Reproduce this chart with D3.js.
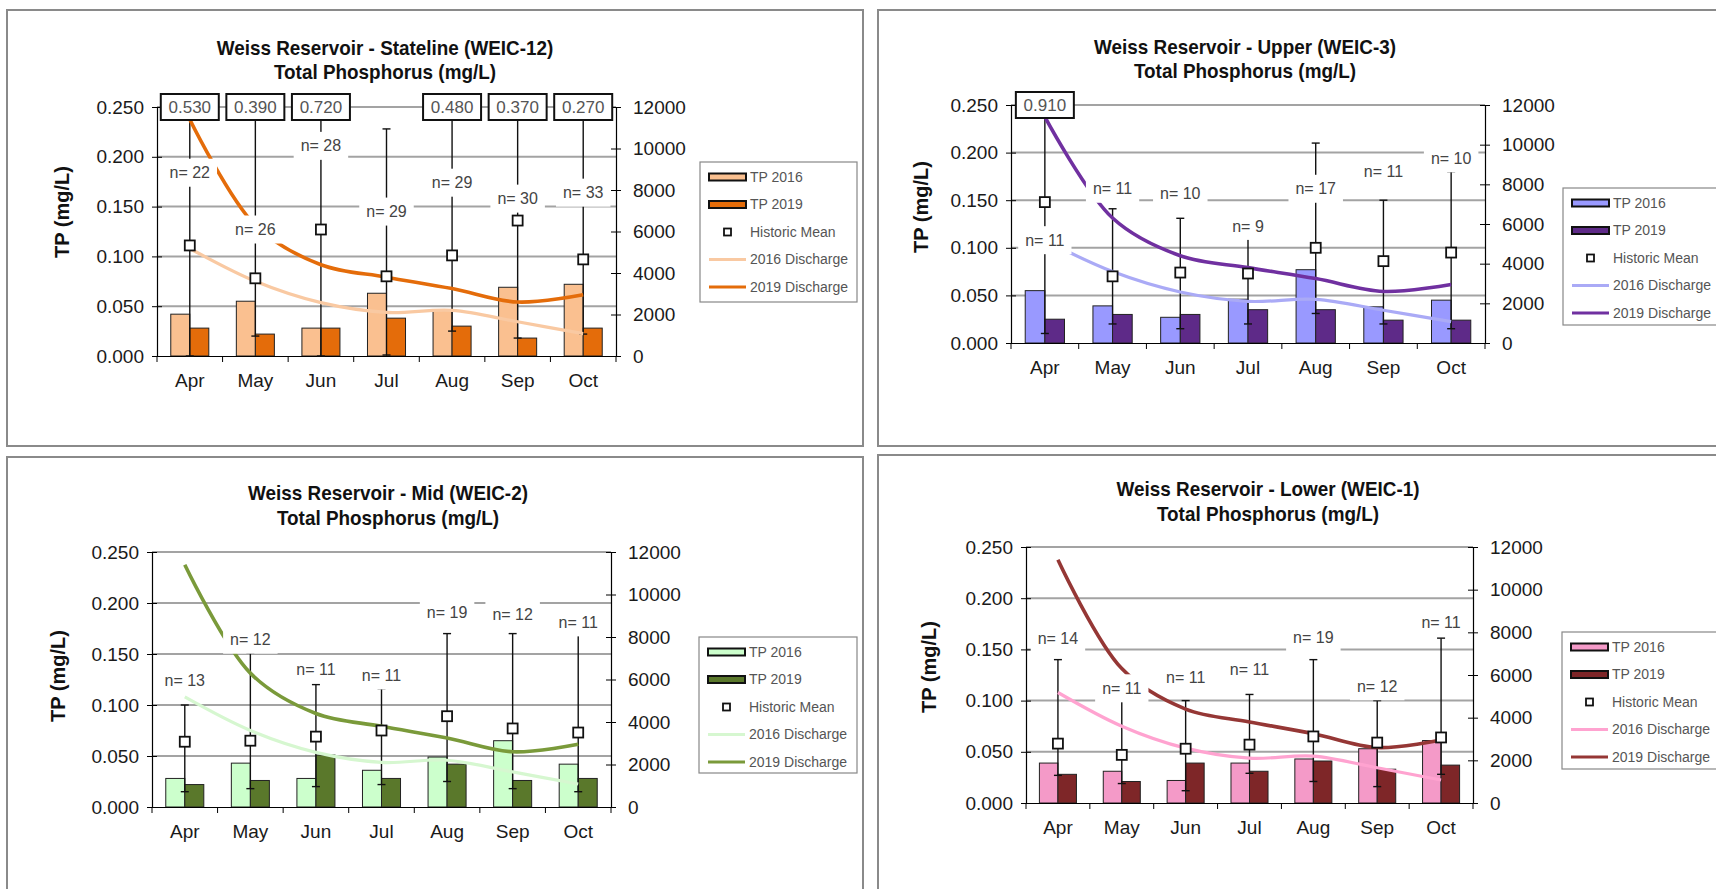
<!DOCTYPE html>
<html><head><meta charset="utf-8">
<script src="https://cdn.jsdelivr.net/npm/d3@7"></script>
<style>
html,body{margin:0;padding:0;background:#fff;overflow:hidden}
svg{display:block}
text{font-family:"Liberation Sans",Arial,sans-serif}
</style>
</head><body>
<svg id="c" width="1716" height="889"></svg>
<script>
// ---------- data ----------
const months = ["Apr","May","Jun","Jul","Aug","Sep","Oct"];
const tpTicks = [0, 0.05, 0.10, 0.15, 0.20, 0.25];
const flowTicks = [0, 2000, 4000, 6000, 8000, 10000, 12000];
const legendLabels = ["TP 2016","TP 2019","Historic Mean","2016 Discharge","2019 Discharge"];

// discharge (same river flow for all stations)
const discharge2016 = [5180, 3600, 2570, 2100, 2200, 1650, 1080];
const discharge2019 = [11400, 6300, 4400, 3800, 3250, 2600, 2950];

// Stateline (WEIC-12)
const tp2016Stateline = [0.042, 0.055, 0.028, 0.063, 0.046, 0.069, 0.072];
const tp2019Stateline = [0.028, 0.022, 0.028, 0.038, 0.030, 0.018, 0.028];
const meanStateline   = [0.111, 0.078, 0.127, 0.080, 0.101, 0.136, 0.097];
const maxStateline    = [0.530, 0.390, 0.720, 0.228, 0.480, 0.370, 0.270];
const minStateline    = [0.000, 0.020, 0.000, 0.001, 0.025, 0.018, 0.022];
const nStateline      = [22, 26, 28, 29, 29, 30, 33];
const nAtStateline    = [0.184, 0.127, 0.211, 0.145, 0.174, 0.158, 0.164];

// Upper (WEIC-3)
const tp2016Upper = [0.055, 0.039, 0.027, 0.046, 0.077, 0.038, 0.045];
const tp2019Upper = [0.025, 0.030, 0.030, 0.035, 0.035, 0.024, 0.024];
const meanUpper   = [0.148, 0.070, 0.074, 0.073, 0.100, 0.086, 0.095];
const maxUpper    = [0.910, 0.141, 0.131, 0.110, 0.210, 0.150, 0.180];
const minUpper    = [0.010, 0.020, 0.015, 0.020, 0.031, 0.020, 0.015];
const nUpper      = [11, 11, 10, 9, 17, 11, 10];
const nAtUpper    = [0.108, 0.162, 0.157, 0.123, 0.162, 0.180, 0.194];

// Mid (WEIC-2)
const tp2016Mid = [0.028, 0.043, 0.028, 0.036, 0.049, 0.065, 0.042];
const tp2019Mid = [0.022, 0.026, 0.051, 0.028, 0.042, 0.026, 0.028];
const meanMid   = [0.064, 0.065, 0.069, 0.075, 0.089, 0.077, 0.073];
const maxMid    = [0.100, 0.151, 0.120, 0.116, 0.170, 0.170, 0.170];
const minMid    = [0.015, 0.018, 0.020, 0.022, 0.025, 0.018, 0.015];
const nMid      = [13, 12, 11, 11, 19, 12, 11];
const nAtMid    = [0.124, 0.164, 0.135, 0.129, 0.191, 0.189, 0.181];

// Lower (WEIC-1)
const tp2016Lower = [0.039, 0.031, 0.022, 0.039, 0.043, 0.053, 0.061];
const tp2019Lower = [0.028, 0.021, 0.039, 0.031, 0.041, 0.033, 0.037];
const meanLower   = [0.058, 0.047, 0.053, 0.057, 0.065, 0.059, 0.064];
const maxLower    = [0.140, 0.100, 0.100, 0.106, 0.140, 0.100, 0.161];
const minLower    = [0.027, 0.019, 0.012, 0.029, 0.021, 0.016, 0.028];
const nLower      = [14, 11, 11, 11, 19, 12, 11];
const nAtLower    = [0.161, 0.112, 0.123, 0.130, 0.162, 0.114, 0.176];

// ---------- panels (layout + styling) ----------
const panels = [
  {title:["Weiss Reservoir - Stateline (WEIC-12)","Total Phosphorus (mg/L)"],
   tp16:tp2016Stateline, tp19:tp2019Stateline, mean:meanStateline, max:maxStateline, min:minStateline, n:nStateline, nAt:nAtStateline,
   c:{b16:"#FAC090", b19:"#E46C0A", l16:"#F9C9A2", l19:"#E46C0A"},
   frame:[7,10,856,436], plot:[157,616,107,356], titleX:385, titleY:[55,79], yTitle:[62,212], legend:[700,162,157,140]},
  {title:["Weiss Reservoir - Upper (WEIC-3)","Total Phosphorus (mg/L)"],
   tp16:tp2016Upper, tp19:tp2019Upper, mean:meanUpper, max:maxUpper, min:minUpper, n:nUpper, nAt:nAtUpper,
   c:{b16:"#9999FF", b19:"#5E2A88", l16:"#AAAAF6", l19:"#7030A0"},
   frame:[878,10,860,436], plot:[1011,1485,105,343], titleX:1245, titleY:[54,78], yTitle:[921,207], legend:[1563,188,170,137]},
  {title:["Weiss Reservoir - Mid (WEIC-2)","Total Phosphorus (mg/L)"],
   tp16:tp2016Mid, tp19:tp2019Mid, mean:meanMid, max:maxMid, min:minMid, n:nMid, nAt:nAtMid,
   c:{b16:"#CCFFCC", b19:"#5A782B", l16:"#D6F7D0", l19:"#7A9A3A"},
   frame:[7,457,856,450], plot:[152,611,552,807], titleX:388, titleY:[500,525], yTitle:[58,676], legend:[699,637,158,136]},
  {title:["Weiss Reservoir - Lower (WEIC-1)","Total Phosphorus (mg/L)"],
   tp16:tp2016Lower, tp19:tp2019Lower, mean:meanLower, max:maxLower, min:minLower, n:nLower, nAt:nAtLower,
   c:{b16:"#F49AC8", b19:"#7E2628", l16:"#FFA3D0", l19:"#953735"},
   frame:[878,455,860,450], plot:[1026,1473,547,803], titleX:1268, titleY:[496,521], yTitle:[929,667], legend:[1562,632,170,137]}
];

const svg = d3.select("#c");
const FONT = '"Liberation Sans", Arial, sans-serif';

function drawPanel(p) {
  const g = svg.append("g");
  const [fx, fy, fw, fh] = p.frame;
  g.append("rect").attr("x", fx).attr("y", fy).attr("width", fw).attr("height", fh)
    .attr("fill", "#fff").attr("stroke", "#8a8a8a").attr("stroke-width", 2);

  const [x0, x1, yT, yB] = p.plot;
  const x = d3.scaleBand().domain(months).range([x0, x1]);
  const y = d3.scaleLinear().domain([0, 0.25]).range([yB, yT]);
  const y2 = d3.scaleLinear().domain([0, 12000]).range([yB, yT]);
  const cx = m => x(m) + x.bandwidth() / 2;

  // title (slightly condensed bold)
  p.title.forEach((t, k) => {
    g.append("text").attr("transform", `translate(${p.titleX},${p.titleY[k]}) scale(0.9,1)`)
      .attr("text-anchor", "middle").attr("font-size", 21).attr("font-weight", "bold")
      .attr("fill", "#111").text(t);
  });

  // gridlines
  g.append("g").selectAll("line").data(tpTicks.filter(d => d > 0)).join("line")
    .attr("x1", x0).attr("x2", x1).attr("y1", d => y(d)).attr("y2", d => y(d))
    .attr("stroke", "#a3a3a3").attr("stroke-width", 2);

  // bars
  const bw = x.bandwidth() * 0.29;
  g.append("g").selectAll("rect").data(months).join("rect")
    .attr("x", m => cx(m) - bw).attr("width", bw)
    .attr("y", (m, i) => y(p.tp16[i])).attr("height", (m, i) => yB - y(p.tp16[i]))
    .attr("fill", p.c.b16).attr("stroke", "#222").attr("stroke-width", 1);
  g.append("g").selectAll("rect").data(months).join("rect")
    .attr("x", m => cx(m)).attr("width", bw)
    .attr("y", (m, i) => y(p.tp19[i])).attr("height", (m, i) => yB - y(p.tp19[i]))
    .attr("fill", p.c.b19).attr("stroke", "#222").attr("stroke-width", 1);

  // axes
  const axL = g.append("g").attr("transform", `translate(${x0},0)`)
    .call(d3.axisLeft(y).tickValues(tpTicks).tickFormat(d3.format(".3f")).tickSize(5).tickPadding(8));
  axL.selectAll(".tick line").attr("x1", 5);
  const axR = g.append("g").attr("transform", `translate(${x1},0)`)
    .call(d3.axisRight(y2).tickValues(flowTicks).tickFormat(d3.format("d")).tickSize(5).tickPadding(12));
  axR.selectAll(".tick line").attr("x1", -5);
  const axB = g.append("g").attr("transform", `translate(0,${yB})`)
    .call(d3.axisBottom(x).tickSize(0).tickPadding(18));
  g.append("g").selectAll("line").data(months.map(m => x(m)).concat([x1])).join("line")
    .attr("x1", d => d).attr("x2", d => d).attr("y1", yB).attr("y2", yB + 6)
    .attr("stroke", "#000");
  [axL, axR, axB].forEach(a => {
    a.attr("font-family", FONT).attr("font-size", 19);
    a.selectAll("text").attr("fill", "#1a1a1a");
    a.selectAll(".domain").attr("stroke", "#000").attr("stroke-width", 1.2);
    a.selectAll(".tick line").attr("stroke", "#000");
  });
  axB.selectAll(".domain").attr("d", `M${x0},0.5H${x1}`);

  // y title
  g.append("text").attr("transform", `translate(${p.yTitle[0]},${p.yTitle[1]}) rotate(-90)`)
    .attr("text-anchor", "middle").attr("dy", "0.35em")
    .attr("font-size", 20).attr("font-weight", "bold").attr("fill", "#111").text("TP (mg/L)");

  // error bars (historic range)
  const cap = 4;
  const eb = g.append("g").attr("stroke", "#111").attr("stroke-width", 1.4);
  months.forEach((m, i) => {
    const top = p.max[i] > 0.25 ? yT + 13 : y(p.max[i]);
    eb.append("line").attr("x1", cx(m)).attr("x2", cx(m)).attr("y1", y(p.min[i])).attr("y2", top);
    if (p.max[i] <= 0.25) eb.append("line").attr("x1", cx(m) - cap).attr("x2", cx(m) + cap).attr("y1", top).attr("y2", top);
    eb.append("line").attr("x1", cx(m) - cap).attr("x2", cx(m) + cap).attr("y1", y(p.min[i])).attr("y2", y(p.min[i]));
  });

  // discharge lines
  const line = d3.line().curve(d3.curveCatmullRom.alpha(0.5))
    .x((d, i) => cx(months[i])).y(d => y2(d));
  g.append("path").attr("d", line(discharge2016)).attr("fill", "none")
    .attr("stroke", p.c.l16).attr("stroke-width", 3.2);
  g.append("path").attr("d", line(discharge2019)).attr("fill", "none")
    .attr("stroke", p.c.l19).attr("stroke-width", 3.6);

  // historic mean markers
  g.append("g").selectAll("rect").data(months).join("rect")
    .attr("x", m => cx(m) - 5).attr("y", (m, i) => y(p.mean[i]) - 5)
    .attr("width", 10).attr("height", 10)
    .attr("fill", "#fff").attr("stroke", "#111").attr("stroke-width", 1.8);

  // n labels with white background
  months.forEach((m, i) => {
    const t = g.append("text").attr("x", cx(m)).attr("y", y(p.nAt[i])).attr("dy", "0.35em")
      .attr("text-anchor", "middle").attr("font-size", 16).attr("fill", "#444").text("n= " + p.n[i]);
    const w = t.node().getComputedTextLength();
    g.insert("rect", () => t.node()).attr("x", cx(m) - w / 2 - 7).attr("y", y(p.nAt[i]) - 14)
      .attr("width", w + 14).attr("height", 28).attr("fill", "#fff");
  });

  // off-scale maxima in boxes
  months.forEach((m, i) => {
    if (p.max[i] > 0.25) {
      g.append("rect").attr("x", cx(m) - 29).attr("y", yT - 13).attr("width", 58).attr("height", 26)
        .attr("fill", "#fff").attr("stroke", "#111").attr("stroke-width", 2);
      g.append("text").attr("x", cx(m)).attr("y", yT).attr("dy", "0.35em").attr("text-anchor", "middle")
        .attr("font-size", 17).attr("fill", "#555").text(d3.format(".3f")(p.max[i]));
    }
  });

  // legend
  const [lx, ly, lw, lh] = p.legend;
  const lg = g.append("g");
  lg.append("rect").attr("x", lx).attr("y", ly).attr("width", lw).attr("height", lh)
    .attr("fill", "#fff").attr("stroke", "#888").attr("stroke-width", 1.2);
  const step = 27.5, sx = lx + 9, sw = 37;
  legendLabels.forEach((lab, k) => {
    const yy = ly + 15 + k * step;
    if (k < 2) {
      lg.append("rect").attr("x", sx).attr("y", yy - 3.5).attr("width", sw).attr("height", 7)
        .attr("fill", k === 0 ? p.c.b16 : p.c.b19).attr("stroke", "#111").attr("stroke-width", 2);
    } else if (k === 2) {
      lg.append("rect").attr("x", sx + sw / 2 - 3.5).attr("y", yy - 3.5).attr("width", 7).attr("height", 7)
        .attr("fill", "#fff").attr("stroke", "#111").attr("stroke-width", 1.8);
    } else {
      lg.append("line").attr("x1", sx).attr("x2", sx + sw).attr("y1", yy).attr("y2", yy)
        .attr("stroke", k === 3 ? p.c.l16 : p.c.l19).attr("stroke-width", 3.2);
    }
    lg.append("text").attr("x", sx + sw + 4).attr("y", yy).attr("dy", "0.35em")
      .attr("font-size", 14).attr("fill", "#555").text(lab);
  });
}

panels.forEach(drawPanel);
</script>
</body></html>
